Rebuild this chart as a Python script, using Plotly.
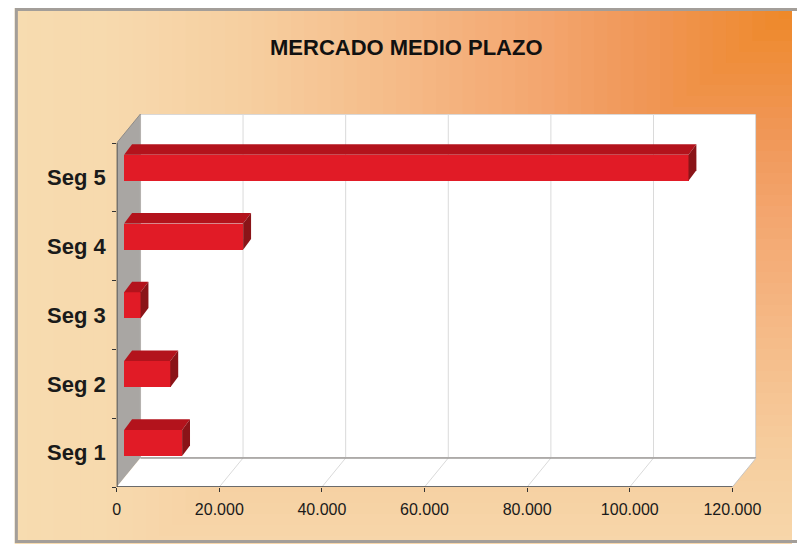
import plotly.graph_objects as go

# ---------------- data ----------------
categories = ["Seg 1", "Seg 2", "Seg 3", "Seg 4", "Seg 5"]
values = [11300, 9000, 3200, 23200, 110000]
x_tick_vals = [0, 20000, 40000, 60000, 80000, 100000, 120000]
x_tick_text = ["0", "20.000", "40.000", "60.000", "80.000", "100.000", "120.000"]
title_text = "MERCADO MEDIO PLAZO"

# ---------------- style / geometry ----------------
W, H = 797, 544
FONT = "Liberation Sans, Arial, sans-serif"
WALL_DX = 4625          # depth of the 3D box (x units)
WALL_DY = 0.4215        # depth of the 3D box (category units)
X_MAX = 120000 + WALL_DX
Y_MAX = 5 + WALL_DY
BAR_BASE = 1445         # bars sit slightly inside the box
BAR_DX = 1542           # bar depth (x units)
BAR_DY = 0.153          # bar depth (category units)
BAR_H = 0.38
BAR_C = 0.64            # bar centre within each band

FRONT = "#E11B26"
TOP = "#B3131C"
SIDE = "#8A1418"

fig = go.Figure()

ypos = [i + BAR_C for i in range(len(categories))]

# front faces
fig.add_trace(go.Bar(
    y=ypos, x=values, base=[BAR_BASE] * len(values), orientation="h",
    width=BAR_H, marker=dict(color=FRONT, line=dict(width=0)),
    showlegend=False, hoverinfo="skip"))

# top and side faces
for c, v in zip(ypos, values):
    yb, yt = c - BAR_H / 2, c + BAR_H / 2
    x0, x1 = BAR_BASE, BAR_BASE + v
    fig.add_trace(go.Scatter(
        x=[x0, x0 + BAR_DX, x1 + BAR_DX, x1, x0],
        y=[yt, yt + BAR_DY, yt + BAR_DY, yt, yt],
        fill="toself", fillcolor=TOP, mode="lines", line=dict(width=0),
        showlegend=False, hoverinfo="skip"))
    fig.add_trace(go.Scatter(
        x=[x1, x1 + BAR_DX, x1 + BAR_DX, x1, x1],
        y=[yb, yb + BAR_DY, yt + BAR_DY, yt, yb],
        fill="toself", fillcolor=SIDE, mode="lines", line=dict(width=0),
        showlegend=False, hoverinfo="skip"))

shapes = []

# ---- background: rectangular gradient anchored at top-right corner ----
def hex2rgb(h):
    h = h.lstrip("#")
    return tuple(int(h[i:i + 2], 16) for i in (0, 2, 4))

stops = [(0.0, "#EE8828"), (0.18, "#F09655"), (0.31, "#F3A56E"),
         (0.5, "#F5BB88"), (0.68, "#F6CE9F"), (0.85, "#F7D9AD"), (1.0, "#F7DCB0")]

def col(t):
    for (t0, c0), (t1, c1) in zip(stops[:-1], stops[1:]):
        if t <= t1:
            a = (t - t0) / (t1 - t0)
            r0, g0, b0 = hex2rgb(c0)
            r1, g1, b1 = hex2rgb(c1)
            return "rgb(%d,%d,%d)" % (round(r0 + (r1 - r0) * a), round(g0 + (g1 - g0) * a), round(b0 + (b1 - b0) * a))
    return stops[-1][1]

FX0, FY0 = 11, 8      # frame top-left (px)
DX, DY = 800, 660
def px(x):
    return x / W
def py(y):
    return 1 - y / H

shapes.append(dict(type="rect", xref="paper", yref="paper", layer="below",
                   x0=px(FX0), x1=1, y0=0, y1=py(FY0),
                   fillcolor=stops[-1][1], line=dict(width=0)))
N = 60
for k in range(N, 0, -1):
    t = k / N
    x0 = max(FX0, W - DX * t)
    y1 = min(H, FY0 + DY * t)
    shapes.append(dict(type="rect", xref="paper", yref="paper", layer="below",
                       x0=px(x0), x1=1, y0=py(y1), y1=py(FY0),
                       fillcolor=col(t - 0.5 / N), line=dict(width=0)))

# frame (left, top and bottom edges visible)
shapes.append(dict(type="rect", xref="paper", yref="paper", layer="below",
                   x0=px(12.5), x1=1.05, y0=py(541.5), y1=py(9.5),
                   fillcolor="rgba(0,0,0,0)", line=dict(color="#A39E99", width=3)))

# ---- 3D box ----
# left wall
shapes.append(dict(type="path", xref="x", yref="y", layer="below",
                   path=f"M 0 0 L {WALL_DX} {WALL_DY} L {WALL_DX} {5 + WALL_DY} L 0 5 Z",
                   fillcolor="#A9A6A3", line=dict(width=0)))
# back wall
shapes.append(dict(type="rect", xref="x", yref="y", layer="below",
                   x0=WALL_DX, x1=X_MAX, y0=WALL_DY, y1=Y_MAX,
                   fillcolor="white", line=dict(color="#B5B2AF", width=1.2)))
# floor
shapes.append(dict(type="path", xref="x", yref="y", layer="below",
                   path=f"M 0 0 L 120000 0 L {X_MAX} {WALL_DY} L {WALL_DX} {WALL_DY} Z",
                   fillcolor="white", line=dict(width=0)))
# grid lines
for v in x_tick_vals[1:-1]:
    shapes.append(dict(type="line", xref="x", yref="y", layer="below",
                       x0=v + WALL_DX, x1=v + WALL_DX, y0=WALL_DY, y1=Y_MAX,
                       line=dict(color="#DADADA", width=1)))
    shapes.append(dict(type="line", xref="x", yref="y", layer="below",
                       x0=v, x1=v + WALL_DX, y0=0, y1=WALL_DY,
                       line=dict(color="#DADADA", width=1)))
# floor back edge and right edge
shapes.append(dict(type="line", xref="x", yref="y", layer="below",
                   x0=WALL_DX, x1=X_MAX, y0=WALL_DY, y1=WALL_DY,
                   line=dict(color="#9E9B98", width=1.5)))
shapes.append(dict(type="line", xref="x", yref="y", layer="below",
                   x0=120000, x1=X_MAX, y0=0, y1=WALL_DY,
                   line=dict(color="#C8C5C2", width=1)))
# front axis lines
shapes.append(dict(type="line", xref="x", yref="y", layer="above",
                   x0=0, x1=120000, y0=0, y1=0,
                   line=dict(color="#3A3A3A", width=1.5)))
shapes.append(dict(type="line", xref="x", yref="y", layer="above",
                   x0=0, x1=0, y0=0, y1=5,
                   line=dict(color="#3A3A3A", width=1.5)))
# left wall top edge
shapes.append(dict(type="line", xref="x", yref="y", layer="below",
                   x0=0, x1=WALL_DX, y0=5, y1=5 + WALL_DY,
                   line=dict(color="#8E8B88", width=1)))

fig.update_layout(
    width=W, height=H, autosize=False,
    margin=dict(l=0, r=0, t=0, b=0, pad=0),
    paper_bgcolor="white", plot_bgcolor="rgba(0,0,0,0)",
    shapes=shapes,
    bargap=0,
    xaxis=dict(domain=[114 / W, 760.7 / W], range=[0, X_MAX],
               showgrid=False, zeroline=False, showline=False,
               tickmode="array", tickvals=x_tick_vals, ticktext=x_tick_text,
               ticks="outside", ticklen=4, tickcolor="#333", tickwidth=1.2,
               tickfont=dict(family=FONT, size=16, color="#1A1A1A"),
               ticklabelstandoff=4, fixedrange=True),
    yaxis=dict(domain=[(H - 487) / H, (H - 114) / H], range=[0, Y_MAX],
               showgrid=False, zeroline=False, showline=False,
               tickmode="array", tickvals=[i + 0.5 for i in range(5)], ticktext=categories,
               ticks="", tickfont=dict(family=FONT, size=22, color="#1A1A1A", weight="bold"),
               ticklabelstandoff=10,
               minor=dict(tickvals=[0, 1, 2, 3, 4, 5], ticks="outside", ticklen=4,
                          tickcolor="#333", tickwidth=1.2, showgrid=False),
               fixedrange=True),
    annotations=[dict(text=title_text, xref="paper", yref="paper",
                      x=407 / W, y=1 - 47 / H, xanchor="center", yanchor="middle",
                      showarrow=False,
                      font=dict(family=FONT, size=22, color="#111111", weight="bold"))],
)

fig.write_html("out.html", config={"displayModeBar": False},
               post_script="document.body.style.margin='0';document.body.style.overflow='hidden';")
